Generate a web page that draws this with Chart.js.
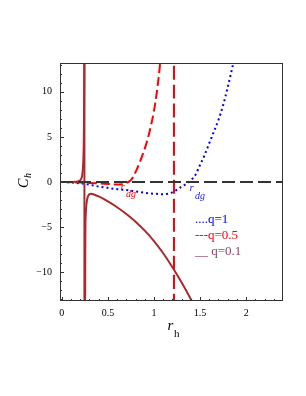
<!DOCTYPE html>
<html>
<head>
<meta charset="utf-8">
<script src="https://cdn.jsdelivr.net/npm/chart.js@4"></script>
<style>
  html, body { margin: 0; padding: 0; background: #fff; }
  canvas { display: block; }
</style>
</head>
<body>
<canvas id="chart" width="306" height="396"></canvas>
<script>
// tick labels
const xTicks = [0, 0.5, 1, 1.5, 2];
const yTicks = [-10, -5, 0, 5, 10];

// q = 1 (blue, dotted)
const q1X = [0, 0.1, 0.2, 0.3, 0.4, 0.5, 0.6, 0.7, 0.8, 0.9, 1.0, 1.1, 1.2, 1.25, 1.3, 1.35, 1.4, 1.45, 1.5, 1.55, 1.6, 1.65, 1.7, 1.75, 1.8, 1.85, 1.9];
const q1Y = [0, -0.05, -0.15, -0.3, -0.5, -0.65, -0.8, -0.9, -1.05, -1.2, -1.3, -1.35, -1.15, -0.85, -0.5, -0.2, 0.2, 0.8, 1.9, 3.0, 4.3, 5.6, 6.9, 8.5, 10.5, 12.7, 15];

// q = 0.5 (red, dashed) and its asymptote
const q05X = [0, 0.1, 0.2, 0.3, 0.4, 0.5, 0.6, 0.65, 0.7, 0.75, 0.8, 0.85, 0.9, 0.95, 1.0, 1.03, 1.06, 1.08];
const q05Y = [0, -0.02, -0.06, -0.1, -0.16, -0.22, -0.28, -0.25, -0.1, 0.2, 1.1, 2.3, 3.7, 5.5, 7.9, 9.9, 12.5, 14.8];
const q05AsymX = [1.217, 1.217];
const q05AsymY = [15, -15];

// q = 0.1 (brown, solid): left branch, jump at the pole, right branch
const q01LeftX = [0, 0.05, 0.1, 0.15, 0.18, 0.2, 0.21, 0.22, 0.23, 0.235, 0.24, 0.245];
const q01LeftY = [0, 0, 0.01, 0.03, 0.08, 0.2, 0.35, 0.7, 1.7, 3.0, 6, 15];
const q01PoleX = [0.245, 0.245];
const q01PoleY = [15, -15];
const q01RightX = [0.252, 0.255, 0.26, 0.27, 0.28, 0.3, 0.32, 0.35, 0.4, 0.5, 0.6, 0.7, 0.8, 0.9, 1.0, 1.1, 1.2, 1.3, 1.4, 1.45];
const q01RightY = [-15, -6, -3.5, -2.2, -1.7, -1.35, -1.3, -1.4, -1.6, -2.15, -2.8, -3.55, -4.4, -5.4, -6.55, -7.9, -9.45, -11.15, -13.0, -14];

// horizontal reference line C_h = 0
const zeroX = [-0.02, 2.4];
const zeroY = [0, 0];

const serif = "'Liberation Serif', 'Times New Roman', serif";

function toPoints(xs, ys) {
    return xs.map((x, i) => ({ x: x, y: ys[i] }));
}

function lineSet(xs, ys, color, dash, width) {
    return {
        data: toPoints(xs, ys),
        showLine: true,
        borderColor: color,
        borderWidth: width,
        borderDash: dash,
        pointRadius: 0,
        cubicInterpolationMode: 'monotone',
        fill: false
    };
}

// frame, inward ticks and all the free text
const decorations = {
    id: 'decorations',
    afterDraw(chart) {
        const ctx = chart.ctx;
        const area = chart.chartArea;
        const xs = chart.scales.x;
        const ys = chart.scales.y;

        ctx.save();
        ctx.strokeStyle = '#333';
        ctx.lineWidth = 1;
        ctx.strokeRect(area.left + 0.5, area.top + 0.5, area.right - area.left - 1, area.bottom - area.top - 1);

        ctx.beginPath();
        for (let v = 0; v <= 2.4; v += 0.1) {
            const px = Math.round(xs.getPixelForValue(v)) + 0.5;
            const major = xTicks.some(t => Math.abs(t - v) < 1e-6);
            ctx.moveTo(px, area.bottom);
            ctx.lineTo(px, area.bottom - (major ? 4 : 2));
        }
        for (let v = -13; v <= 13; v += 1) {
            const py = Math.round(ys.getPixelForValue(v)) + 0.5;
            const major = v % 5 === 0;
            ctx.moveTo(area.left, py);
            ctx.lineTo(area.left + (major ? 4 : 2), py);
        }
        ctx.stroke();

        ctx.textBaseline = 'alphabetic';
        ctx.textAlign = 'left';

        // x axis title r_h
        ctx.fillStyle = '#000';
        ctx.font = 'italic 15px ' + serif;
        ctx.fillText('r', 167.5, 330);
        ctx.font = '11px ' + serif;
        ctx.fillText('h', 174, 337);

        // y axis title C_h (rotated)
        ctx.save();
        ctx.translate(28, 188);
        ctx.rotate(-Math.PI / 2);
        ctx.font = 'italic 14px ' + serif;
        ctx.fillText('C', 0, 0);
        ctx.font = 'italic 10px ' + serif;
        ctx.fillText('h', 10, 3);
        ctx.restore();

        // r_dg markers
        ctx.fillStyle = '#ff0000';
        ctx.font = 'italic 11px ' + serif;
        ctx.fillText('r', 120.5, 190);
        ctx.font = 'italic 10px ' + serif;
        ctx.fillText('dg', 126, 196.5);

        ctx.fillStyle = '#1a1aff';
        ctx.font = 'italic 11px ' + serif;
        ctx.fillText('r', 189.5, 191);
        ctx.font = 'italic 10px ' + serif;
        ctx.fillText('dg', 195, 199);

        // legend
        ctx.font = '13px ' + serif;
        ctx.fillStyle = '#0000ff';
        ctx.fillText('....q=1', 195, 223);
        ctx.fillStyle = '#ff0000';
        ctx.fillText('---q=0.5', 195, 238.5);
        ctx.fillStyle = '#9a3e6a';
        ctx.fillText('__ q=0.1', 195, 255);

        ctx.restore();
    }
};

new Chart(document.getElementById('chart'), {
    type: 'scatter',
    data: {
        datasets: [
            lineSet(zeroX, zeroY, '#333333', [13, 5], 2),
            lineSet(q01LeftX, q01LeftY, '#b0272b', [], 2),
            lineSet(q01PoleX, q01PoleY, '#b0272b', [], 2),
            lineSet(q01RightX, q01RightY, '#b0272b', [], 2),
            lineSet(q05X, q05Y, '#ff0000', [9, 4], 2),
            lineSet(q05AsymX, q05AsymY, '#ff0000', [14, 5], 2),
            lineSet(q1X, q1Y, '#0000ff', [2, 3], 2)
        ]
    },
    options: {
        responsive: false,
        animation: false,
        devicePixelRatio: 1,
        layout: { padding: { top: 63, right: 23, left: 0, bottom: 0 } },
        plugins: {
            legend: { display: false },
            tooltip: { enabled: false }
        },
        scales: {
            x: {
                type: 'linear',
                min: -0.02,
                max: 2.4,
                afterBuildTicks: (scale) => { scale.ticks = xTicks.map(v => ({ value: v })); },
                afterFit: (scale) => { scale.height = 95; },
                grid: { display: false, drawTicks: false },
                border: { display: false },
                ticks: {
                    padding: 6,
                    color: '#000',
                    font: { family: serif, size: 10 },
                    maxRotation: 0,
                    callback: (v) => String(v)
                }
            },
            y: {
                type: 'linear',
                min: -13.2,
                max: 13.2,
                afterBuildTicks: (scale) => { scale.ticks = yTicks.map(v => ({ value: v })); },
                afterFit: (scale) => { scale.width = 60; },
                grid: { display: false, drawTicks: false },
                border: { display: false },
                ticks: {
                    padding: 8,
                    color: '#000',
                    font: { family: serif, size: 10 },
                    callback: (v) => (v < 0 ? '\u2212' + Math.abs(v) : String(v))
                }
            }
        }
    },
    plugins: [decorations]
});
</script>
</body>
</html>
